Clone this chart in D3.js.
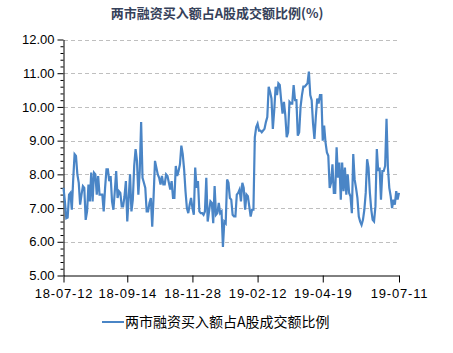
<!DOCTYPE html>
<html>
<head>
<meta charset="utf-8">
<script src="https://cdn.jsdelivr.net/npm/d3@7"></script>
<style>
html,body{margin:0;padding:0;background:#fff;}
svg{display:block;}
</style>
</head>
<body>
<svg id="chart" width="453" height="353"></svg>
<script>
const title = "两市融资买入额占A股成交额比例(%)";
const seriesName = "两市融资买入额占A股成交额比例";
const tickLabels = ["18-07-12","18-09-14","18-11-28","19-02-12","19-04-19","19-07-11"];
const tickIndex = [0,46,93,140,187,242];
const yTicks = [5,6,7,8,9,10,11,12];
const values = [
7.60,7.20,6.70,6.72,7.40,7.45,6.95,7.85,8.60,8.55,
8.00,7.75,7.10,7.40,7.65,7.60,6.65,6.90,7.70,7.20,
8.05,7.20,8.05,8.00,7.40,7.95,7.40,7.40,7.40,6.90,
7.60,8.15,8.15,7.80,7.95,7.20,6.95,7.50,8.10,7.30,
7.50,7.45,7.05,7.05,7.35,7.80,6.60,7.30,8.00,6.90,
7.25,8.25,8.75,8.40,7.40,8.10,9.55,7.90,7.75,7.60,
6.90,6.90,7.15,7.30,6.45,7.35,8.40,8.20,8.00,7.90,
7.70,7.95,7.70,7.70,8.00,7.95,7.75,7.55,7.80,7.30,
7.30,8.25,7.95,8.10,8.30,8.85,8.60,8.15,7.50,7.00,
6.85,7.10,7.30,7.00,6.80,8.20,7.60,7.80,6.90,6.85,
6.85,6.80,6.90,7.90,6.60,6.90,7.20,7.15,6.55,7.65,
6.80,6.85,7.15,6.85,6.90,5.85,6.60,6.55,7.85,7.75,
7.30,7.25,6.80,6.75,6.75,7.40,7.45,7.55,7.20,7.75,
7.60,6.95,7.40,7.35,7.05,6.75,6.95,6.95,9.10,9.40,
9.50,9.30,9.30,9.25,9.30,9.35,9.55,9.70,10.60,10.45,
10.25,9.35,9.90,10.60,10.35,10.70,10.65,10.20,9.80,10.15,
9.75,9.10,9.25,10.15,10.10,10.10,10.65,10.20,10.20,9.15,
9.25,10.00,10.35,10.60,10.60,10.65,10.70,11.05,10.35,10.20,
9.50,9.05,9.70,10.25,10.10,10.35,10.35,9.00,9.45,8.95,
8.65,8.55,7.60,7.75,8.30,7.45,7.45,8.80,7.90,8.35,
7.25,8.35,7.50,8.20,7.40,8.00,7.45,7.35,6.85,8.60,
7.85,7.60,7.30,6.75,6.60,6.50,6.65,6.95,7.45,8.45,
8.20,7.45,6.95,6.65,6.60,7.05,8.75,8.10,8.20,7.25,
8.10,8.10,8.25,9.65,8.20,7.60,7.35,7.00,7.25,7.10,
7.50,7.25,7.45
];

const svg = d3.select("#chart");
const numFont = "'Liberation Sans', Arial, sans-serif";
const cjkFont = "'Noto Sans CJK SC', 'Liberation Sans', sans-serif";
const lineColor = "#4a85c6";

const x = d3.scaleLinear().domain([0, values.length - 1]).range([63.5, 399]);
const y = d3.scaleLinear().domain([5, 12]).range([275.5, 39.5]);

// Title
svg.append("text")
  .attr("x", 217).attr("y", 18)
  .attr("text-anchor", "middle")
  .attr("font-family", cjkFont)
  .attr("font-size", "13px")
  .attr("font-weight", "bold")
  .attr("fill", "#36415a")
  .text(title);

// Gridlines
svg.append("g")
  .selectAll("line")
  .data(yTicks.filter(d => d > 5))
  .join("line")
  .attr("x1", 64).attr("x2", 400)
  .attr("y1", d => Math.round(y(d)) + 0.5)
  .attr("y2", d => Math.round(y(d)) + 0.5)
  .attr("stroke", "#bfbfbf")
  .attr("stroke-width", 1)
  .attr("stroke-dasharray", "4,3");

// Minor y ticks
const minorTicks = d3.range(50, 121, 2).map(d => d / 10).filter(d => Math.abs(d - Math.round(d)) > 1e-6);
svg.append("g")
  .attr("transform", "translate(63.5,0)")
  .call(d3.axisLeft(y).tickValues(minorTicks).tickSize(3).tickFormat(""))
  .call(g => g.select(".domain").remove())
  .call(g => g.selectAll("line").attr("stroke", "#000"));

// Major y axis
svg.append("g")
  .attr("transform", "translate(63.5,0)")
  .call(d3.axisLeft(y).tickValues(yTicks).tickSize(6).tickSizeOuter(0).tickPadding(3).tickFormat(d => d.toFixed(2)))
  .call(g => g.select(".domain").attr("stroke", "#000"))
  .call(g => g.selectAll("line").attr("stroke", "#000"))
  .call(g => g.selectAll("text")
      .attr("font-family", numFont)
      .attr("font-size", "13px")
      .attr("fill", "#000"));

// X axis
svg.append("g")
  .attr("transform", "translate(0,275.5)")
  .call(d3.axisBottom(x).tickValues(tickIndex).tickSize(7).tickSizeOuter(0).tickPadding(6)
      .tickFormat((d) => tickLabels[tickIndex.indexOf(d)]))
  .call(g => g.select(".domain").attr("stroke", "#000"))
  .call(g => g.selectAll("line").attr("stroke", "#000"))
  .call(g => g.selectAll("text")
      .attr("font-family", numFont)
      .attr("font-size", "13px")
      .attr("letter-spacing", "0.8px")
      .attr("fill", "#000"));

// Line
const line = d3.line()
  .x((d, i) => x(i))
  .y(d => y(d));

svg.append("path")
  .datum(values)
  .attr("fill", "none")
  .attr("stroke", lineColor)
  .attr("stroke-width", 2.2)
  .attr("stroke-linejoin", "miter")
  .attr("d", line);

// Legend
const lg = svg.append("g").attr("transform", "translate(102,322)");
lg.append("line")
  .attr("x1", 0).attr("x2", 22)
  .attr("y1", 0).attr("y2", 0)
  .attr("stroke", lineColor)
  .attr("stroke-width", 2);
lg.append("text")
  .attr("x", 23).attr("y", 5)
  .attr("font-family", cjkFont)
  .attr("font-size", "14px")
  .attr("fill", "#000")
  .text(seriesName);
</script>
</body>
</html>
